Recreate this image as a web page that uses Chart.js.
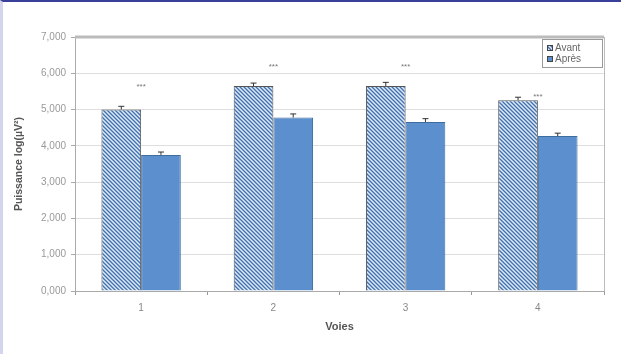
<!DOCTYPE html>
<html>
<head>
<meta charset="utf-8">
<script src="https://cdn.jsdelivr.net/npm/chart.js@4/dist/chart.umd.min.js"></script>
<style>
  html, body { margin: 0; padding: 0; background: #fff; }
  #wrap { position: relative; width: 621px; height: 354px; box-sizing: border-box;
          border-top: 2px solid #3a3f9a; border-left: 3px solid #d4d4ee; }
  canvas { display: block; }
</style>
</head>
<body>
<div id="wrap"><canvas id="c" width="618" height="352"></canvas></div>
<script>
// chart data
const voies = ['1', '2', '3', '4'];
const avant = [5.00, 5.65, 5.65, 5.26];
const apres = [3.75, 4.78, 4.66, 4.27];
const avantErr = [0.09, 0.08, 0.10, 0.08];
const apresErr = [0.08, 0.10, 0.09, 0.08];
const starLevel = [5.62, 6.18, 6.18, 5.35];   // where the *** marks sit
const yTicks = [0, 1, 2, 3, 4, 5, 6, 7];

const fontFam = '"Liberation Sans", Arial, sans-serif';

// hatch pattern for "Avant"
function hatch() {
  const p = document.createElement('canvas');
  p.width = 4; p.height = 4;
  const g = p.getContext('2d');
  g.fillStyle = '#dbe9f8';
  g.fillRect(0, 0, 4, 4);
  g.strokeStyle = '#4270ad';
  g.lineWidth = 1.3;
  g.beginPath();
  g.moveTo(-1, -1); g.lineTo(5, 5);
  g.moveTo(-1, 3); g.lineTo(1, 5);
  g.moveTo(3, -1); g.lineTo(5, 1);
  g.stroke();
  return g.createPattern(p, 'repeat');
}
const ctx = document.getElementById('c').getContext('2d');
const avantFill = hatch();
const apresFill = '#5b8fcd';

// error bars, stars, frame and legend box
const extras = {
  id: 'extras',
  afterDatasetsDraw(chart) {
    const c = chart.ctx, y = chart.scales.y, x = chart.scales.x, a = chart.chartArea;
    const errs = [avantErr, apresErr];
    c.save();
    c.strokeStyle = '#333';
    c.lineWidth = 1;
    [avant, apres].forEach((vals, di) => {
      chart.getDatasetMeta(di).data.forEach((bar, j) => {
        const top = y.getPixelForValue(vals[j] + errs[di][j]);
        const base = y.getPixelForValue(vals[j]);
        c.beginPath();
        c.moveTo(bar.x, base); c.lineTo(bar.x, top);
        c.moveTo(bar.x - 3, top); c.lineTo(bar.x + 3, top);
        c.stroke();
      });
    });
    c.fillStyle = '#777';
    c.font = '8px ' + fontFam;
    c.textAlign = 'center';
    c.textBaseline = 'middle';
    voies.forEach((v, j) => {
      c.fillText('***', x.getPixelForValue(j), y.getPixelForValue(starLevel[j]));
    });
    // plot frame
    c.strokeStyle = '#bbb';
    c.lineWidth = 3;
    c.beginPath(); c.moveTo(a.left, a.top); c.lineTo(a.right, a.top); c.stroke();
    c.lineWidth = 1;
    c.beginPath(); c.moveTo(a.right + 0.5, a.top); c.lineTo(a.right + 0.5, a.bottom); c.stroke();
    // legend
    const lx = a.right - 62, ly = a.top + 2, lw = 60, lh = 28;
    c.fillStyle = '#fff';
    c.fillRect(lx, ly, lw, lh);
    c.strokeStyle = '#999';
    c.strokeRect(lx + 0.5, ly + 0.5, lw, lh);
    const items = [['Avant', avantFill], ['Après', apresFill]];
    c.textAlign = 'left';
    c.font = '10px ' + fontFam;
    items.forEach((it, i) => {
      const yy = ly + 9 + i * 11;
      c.fillStyle = it[1];
      c.fillRect(lx + 5, yy - 3, 6, 6);
      c.strokeStyle = '#444';
      c.strokeRect(lx + 5.5, yy - 2.5, 5, 5);
      c.fillStyle = '#666';
      c.fillText(it[0], lx + 13, yy);
    });
    c.restore();
  }
};

new Chart(ctx, {
  type: 'bar',
  data: {
    labels: voies,
    datasets: [
      { label: 'Avant', data: avant, backgroundColor: avantFill, borderColor: '#555', borderWidth: 1 },
      { label: 'Après', data: apres, backgroundColor: apresFill, borderColor: '#3f6c9f', borderWidth: 1 }
    ]
  },
  options: {
    responsive: false,
    animation: false,
    events: [],
    categoryPercentage: 0.6,
    barPercentage: 1.0,
    layout: { padding: { top: 35, right: 17, left: 0, bottom: 16 } },
    plugins: { legend: { display: false }, tooltip: { enabled: false } },
    scales: {
      x: {
        afterFit: s => { s.height = 47; },
        grid: { offset: true, drawOnChartArea: false, drawTicks: true, tickLength: 4, color: '#999' },
        border: { color: '#aaa', width: 1 },
        ticks: { color: '#888', font: { family: fontFam, size: 10 }, padding: 7 },
        title: { display: true, text: 'Voies', color: '#555', font: { family: fontFam, size: 11, weight: 'bold' }, padding: { top: 4 } }
      },
      y: {
        min: 0, max: 7,
        afterFit: s => { s.width = 72; },
        afterBuildTicks: s => { s.ticks = yTicks.map(v => ({ value: v })); },
        grid: { color: '#dedede', tickLength: 4, tickColor: '#aaa' },
        border: { color: '#aaa', width: 1 },
        ticks: {
          color: '#999', font: { family: fontFam, size: 10 }, padding: 5,
          callback: v => v.toFixed(3).replace('.', ',')
        },
        title: { display: true, text: 'Puissance log(µV²)', color: '#555', font: { family: fontFam, size: 10.5, weight: 'bold' }, padding: { top: 10, bottom: 0 } }
      }
    }
  },
  plugins: [extras]
});
</script>
</body>
</html>
